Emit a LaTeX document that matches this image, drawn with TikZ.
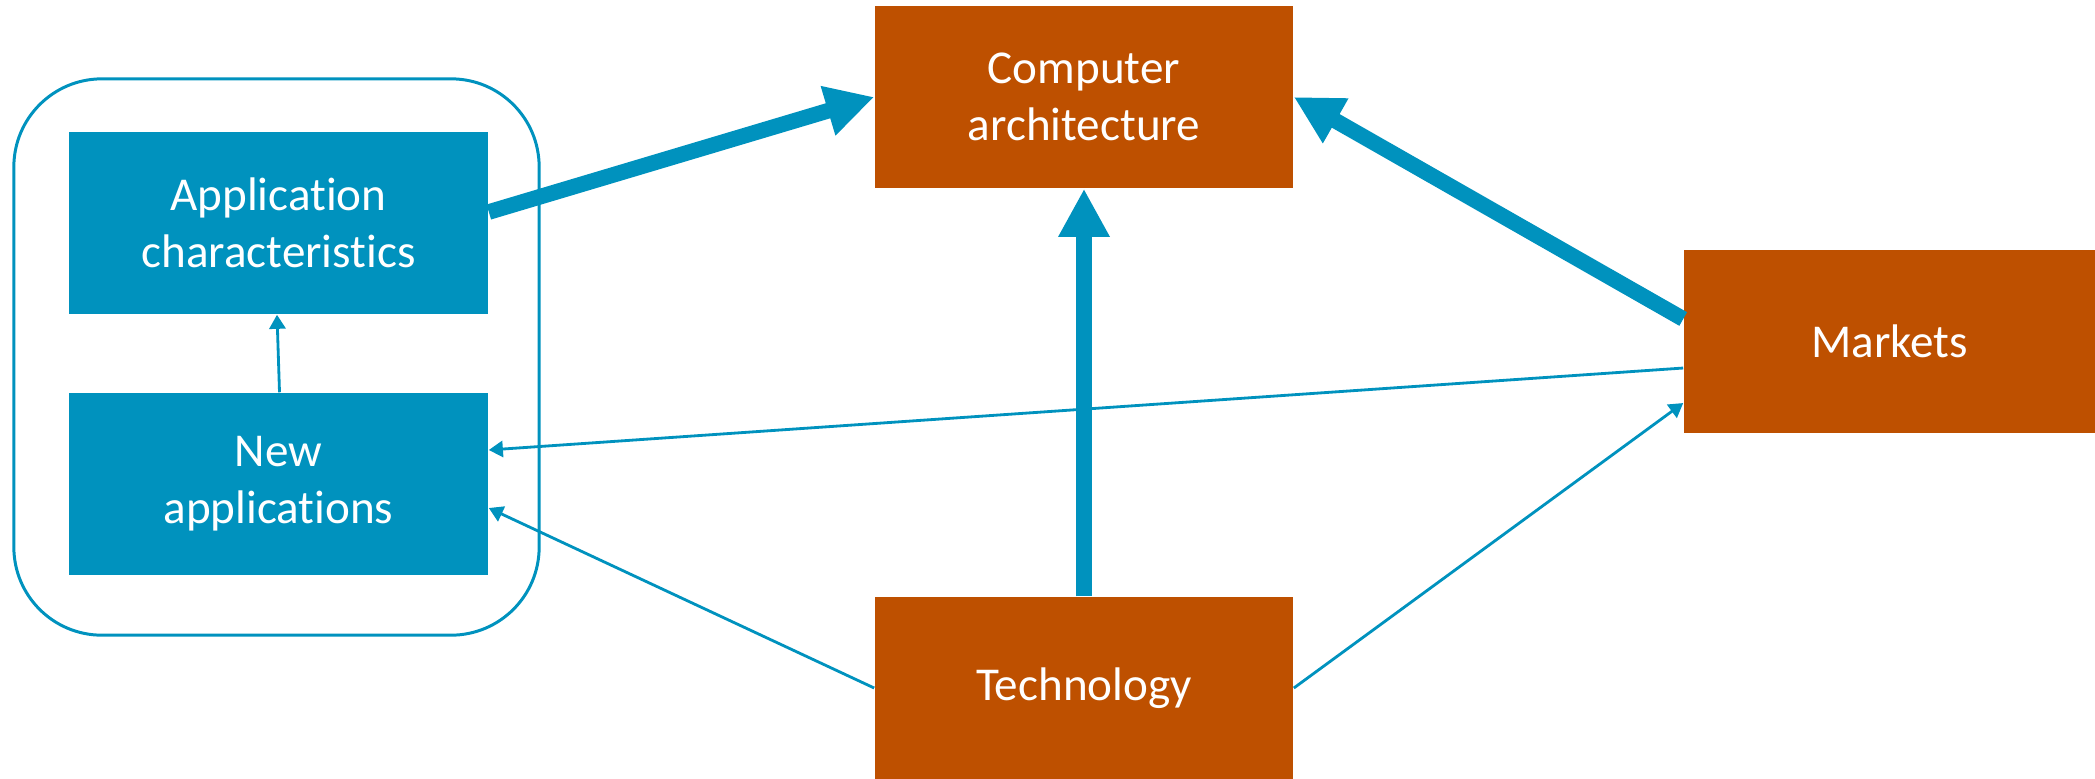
\documentclass[tikz,border=0pt]{standalone}
\usepackage{fontspec}
\setmainfont{Carlito}[Ligatures=NoCommon]
\usetikzlibrary{arrows.meta}

\definecolor{appblue}{RGB}{0,146,190}
\definecolor{rustorange}{RGB}{190,80,0}

\begin{document}
\begin{tikzpicture}[x=0.01cm, y=-0.01cm,
  boxtext/.style={text=white, inner sep=0pt, align=center,
    font=\fontsize{13.4}{16.2}\selectfont},
  bluebox/.style={boxtext, fill=appblue, minimum width=4.19cm, minimum height=1.82cm},
  orangebox/.style={boxtext, fill=rustorange, minimum width=4.18cm, minimum height=1.82cm},
  groupframe/.style={draw=appblue, line width=0.85pt, rounded corners=0.88cm,
    inner sep=0pt, minimum width=5.25cm, minimum height=5.56cm},
  strongflow/.style={draw=appblue, line width=4.45pt,
    -{Triangle[width=13.7pt, length=13.7pt]}},
  weakflow/.style={draw=appblue, line width=0.8pt,
    -{Triangle[width=4.6pt, length=4pt]}}
]
\useasboundingbox (0,0) rectangle (2095,778);

% application group
\node[groupframe] (group) at (276.5,357) {};
\node[bluebox] (app) at (278.5,223) {Application\\characteristics};
\node[bluebox] (newapp) at (278.5,484) {New\\applications};

% driving factors
\node[orangebox] (arch) at (1084,97) {Computer\\architecture};
\node[orangebox] (tech) at (1084,688) {Technology};
\node[orangebox, minimum width=4.11cm] (markets) at (1889.5,341.5) {Markets};

% strong influences
\draw[strongflow] ([yshift=0.11cm]app.east) -- (arch.west);
\draw[strongflow] ([yshift=0.225cm]markets.west) -- (arch.east);
\draw[strongflow] (tech.north) -- (arch.south);

% weak influences
\draw[weakflow] ([xshift=0.01cm]newapp.north) -- ([xshift=-0.015cm]app.south);
\draw[weakflow] ([yshift=-0.265cm]markets.west) -- ([yshift=0.34cm]newapp.east);
\draw[weakflow] (tech.west) -- ([yshift=-0.24cm]newapp.east);
\draw[weakflow] (tech.east) -- ([yshift=-0.615cm]markets.west);
\end{tikzpicture}
\end{document}
